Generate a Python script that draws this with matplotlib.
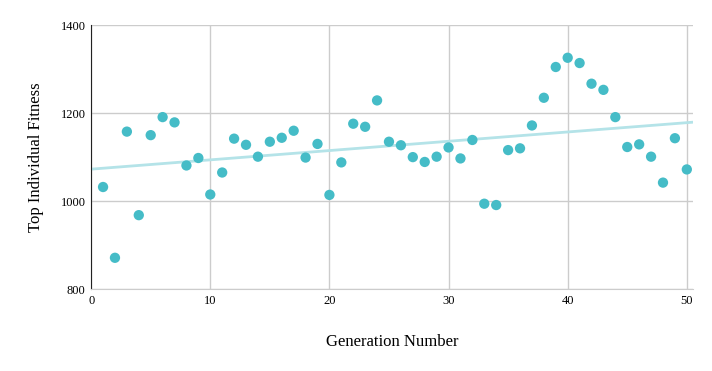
import numpy as np
import matplotlib.pyplot as plt

generation = np.arange(1, 51)
fitness = [1032, 871, 1158, 968, 1150, 1191, 1179, 1081, 1098, 1015,
           1065, 1142, 1128, 1101, 1135, 1144, 1160, 1099, 1130, 1014,
           1088, 1176, 1169, 1229, 1135, 1127, 1100, 1089, 1101, 1122,
           1097, 1139, 994, 991, 1116, 1120, 1172, 1235, 1305, 1326,
           1314, 1267, 1253, 1191, 1123, 1129, 1101, 1042, 1143, 1072]
xticks = [0, 10, 20, 30, 40, 50]
yticks = [800, 1000, 1200, 1400]

plt.rcParams['font.family'] = ['Liberation Serif', 'DejaVu Serif']

fig = plt.figure(figsize=(7.12, 3.71), dpi=100)
ax = fig.add_axes([0.128, 0.221, 0.845, 0.711])

# linear trendline through the points
slope, icpt = np.polyfit(generation, fitness, 1)
xl = np.array([0, 50.5])
ax.plot(xl, slope*xl + icpt, color='#b4e3e8', lw=2, zorder=2)
ax.scatter(generation, fitness, s=55, color='#45bcc7', edgecolors='none', zorder=3)

ax.set_xlim(0, 50.5)
ax.set_ylim(800, 1400)
ax.set_xticks(xticks)
ax.set_yticks(yticks)
ax.grid(True, color='#cccccc', lw=1)
ax.set_axisbelow(True)
ax.tick_params(length=0, labelsize=9, pad=4)
for s in ['top', 'right']:
    ax.spines[s].set_visible(False)
ax.spines['bottom'].set_color('#cccccc')
ax.spines['left'].set_color('#222222')

ax.set_xlabel('Generation Number', fontsize=12, labelpad=20)
ax.set_ylabel('Top Individual Fitness', fontsize=12, labelpad=12)

fig.savefig('out.png', dpi=100)
